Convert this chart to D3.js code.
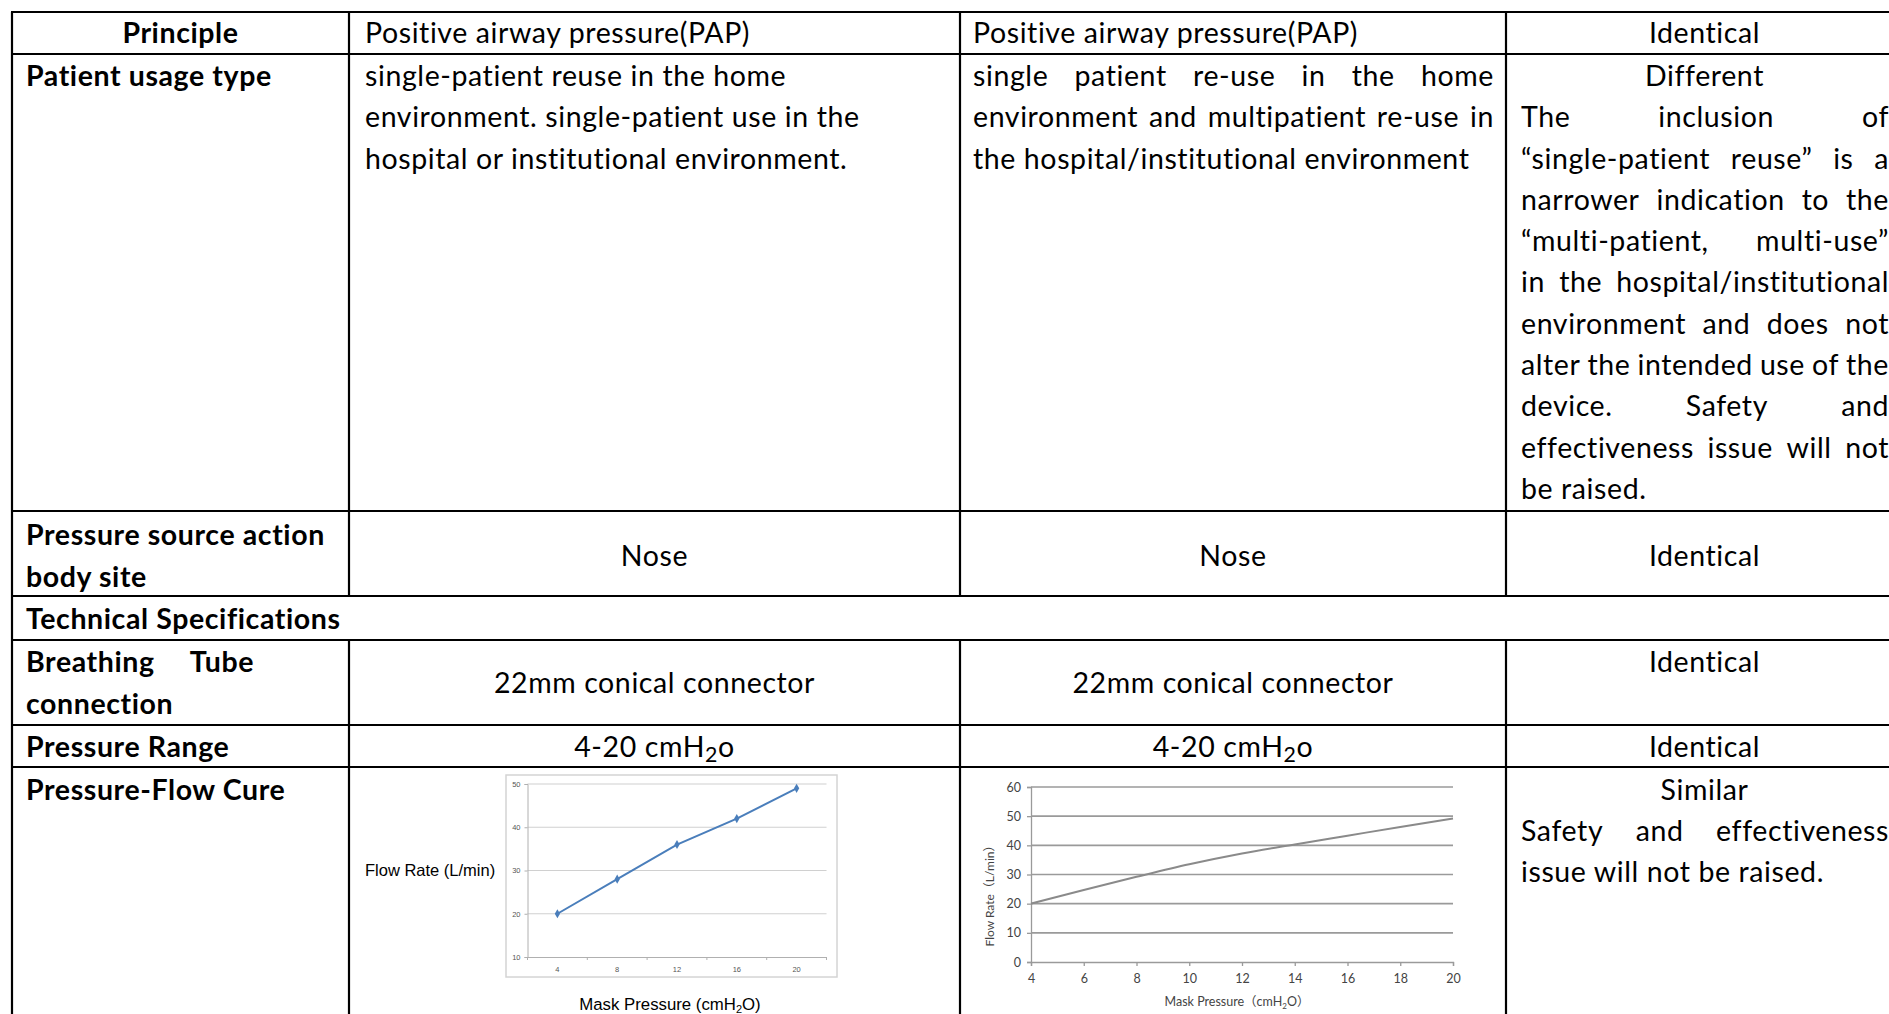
<!DOCTYPE html>
<html>
<head>
<meta charset="utf-8">
<script src="https://cdn.jsdelivr.net/npm/d3@7"></script>
<style>
  body { margin: 0; background: #fff; overflow: hidden; }
</style>
</head>
<body>
<div id="chart"></div>
<script>
// ---- table text ----
var colA = [["Principle"], ["Patient usage type"], ["Pressure source action", "body site"],
  ["Technical Specifications"], ["Breathing Tube", "connection"], ["Pressure Range"], ["Pressure-Flow Cure"]]
var colB = [["Positive airway pressure(PAP)"],
  ["single-patient reuse in the home", "environment. single-patient use in the", "hospital or institutional environment."],
  ["Nose"], [], ["22mm conical connector"], ["4-20 cmH|2|o"], []]
var colC = [["Positive airway pressure(PAP)"],
  ["single patient re-use in the home", "environment and multipatient re-use in", "the hospital/institutional environment"],
  ["Nose"], [], ["22mm conical connector"], ["4-20 cmH|2|o"], []]
var colD = [["Identical"],
  ["Different", "The inclusion of", "\u201csingle-patient reuse\u201d is a", "narrower indication to the",
   "\u201cmulti-patient, multi-use\u201d", "in the hospital/institutional", "environment and does not",
   "alter the intended use of the", "device. Safety and", "effectiveness issue will not", "be raised."],
  ["Identical"], [], ["Identical"], ["Identical"],
  ["Similar", "Safety and effectiveness", "issue will not be raised."]]

// ---- chart data ----
var leftPressure = [4, 8, 12, 16, 20]
var leftFlow = [20, 28, 36, 42, 49]
var leftYTicks = [10, 20, 30, 40, 50]

var rightPressure = [4, 6, 8, 10, 12, 14, 16, 18, 20]
var rightFlow = [20, 24.7, 29.2, 33.5, 37.2, 40.3, 43.3, 46.3, 49.2]
var rightYTicks = [0, 10, 20, 30, 40, 50, 60]
var rightXTicks = [4, 6, 8, 10, 12, 14, 16, 18, 20]

// ---- layout ----
var W = 1889, H = 1014
var colX = [12, 349, 960, 1506, 1903]
var rowY = [12, 54, 511, 596, 640, 725, 767, 1030]
var FONT = "Lato, 'Noto Sans', sans-serif"
var FS = 28.5
var LH = 41.3

var svg = d3.select("#chart").append("svg")
  .attr("width", W).attr("height", H)
svg.append("rect").attr("width", W).attr("height", H).attr("fill", "#fff")

var txt = svg.append("g").attr("font-family", FONT).attr("font-size", FS)
  .attr("fill", "#000").style("letter-spacing", "0.6px")

// baseline from a visual centre
function base(c) { return c + FS * 0.35 }

// one line of text; "a|2|b" draws a subscript 2
function line(str, x, cy, anchor, bold) {
  var t = txt.append("text").attr("x", x).attr("y", base(cy))
    .attr("text-anchor", anchor || "start")
    .attr("font-weight", bold ? "bold" : "normal")
  var parts = str.split("|")
  if (parts.length === 1) { t.text(str); return t }
  t.append("tspan").text(parts[0])
  t.append("tspan").attr("font-size", FS * 0.75).attr("dy", 5).text(parts[1])
  t.append("tspan").attr("dy", -5).text(parts[2])
  return t
}

// justified line: words spread from x0 to x1
function justify(str, x0, x1, cy, bold) {
  var words = str.split(" ")
  var nodes = words.map(function(w) {
    return txt.append("text").attr("y", base(cy))
      .attr("font-weight", bold ? "bold" : "normal").text(w)
  })
  var widths = nodes.map(function(n) { return n.node().getComputedTextLength() })
  var gap = (x1 - x0 - d3.sum(widths)) / (words.length - 1)
  var x = x0
  nodes.forEach(function(n, i) { n.attr("x", x); x += widths[i] + gap })
}

function centre(i) { return (colX[i] + colX[i + 1]) / 2 }
var padL = [26, 365, 973, 1521], padR = [335, 946, 1494, 1889]

// row 1
line(colA[0][0], centre(0), 33, "middle", true)
line(colB[0][0], padL[1], 33)
line(colC[0][0], padL[2], 33)
line(colD[0][0], centre(3), 33, "middle")

// row 2
var r2 = function(k) { return 76 + k * LH }
line(colA[1][0], padL[0], r2(0), "start", true)
colB[1].forEach(function(s, k) { line(s, padL[1], r2(k)) })
colC[1].forEach(function(s, k) {
  if (k < colC[1].length - 1) justify(s, padL[2], padR[2], r2(k))
  else line(s, padL[2], r2(k))
})
colD[1].forEach(function(s, k) {
  if (k === 0) line(s, centre(3), r2(k), "middle")
  else if (k < colD[1].length - 1) justify(s, padL[3], padR[3], r2(k))
  else line(s, padL[3], r2(k))
})

// row 3
line(colA[2][0], padL[0], 535, "start", true)
line(colA[2][1], padL[0], 577, "start", true)
line(colB[2][0], centre(1), 556, "middle")
line(colC[2][0], centre(2), 556, "middle")
line(colD[2][0], centre(3), 556, "middle")

// row 4
line(colA[3][0], padL[0], 619, "start", true)

// row 5
justify(colA[4][0], padL[0], 254, 662, true)
line(colA[4][1], padL[0], 704, "start", true)
line(colB[4][0], centre(1), 683, "middle")
line(colC[4][0], centre(2), 683, "middle")
line(colD[4][0], centre(3), 662, "middle")

// row 6
line(colA[5][0], padL[0], 747, "start", true)
line(colB[5][0], centre(1), 747, "middle")
line(colC[5][0], centre(2), 747, "middle")
line(colD[5][0], centre(3), 747, "middle")

// row 7
line(colA[6][0], padL[0], 790, "start", true)
line(colD[6][0], centre(3), 790, "middle")
justify(colD[6][1], padL[3], padR[3], 831)
line(colD[6][2], padL[3], 872)

// grid lines
var grid = svg.append("g").attr("stroke", "#000").attr("stroke-width", 2.2)
rowY.slice(0, 7).forEach(function(y) {
  grid.append("line").attr("x1", colX[0] - 1).attr("x2", colX[4]).attr("y1", y).attr("y2", y)
})
for (var r = 0; r < 7; r++) {
  colX.forEach(function(x, i) {
    if (r === 3 && i > 0 && i < 4) return
    grid.append("line").attr("x1", x).attr("x2", x).attr("y1", rowY[r]).attr("y2", rowY[r + 1])
  })
}

// ---- left chart (excel style) ----
var lc = svg.append("g").attr("font-family", "'Liberation Sans', Arial, sans-serif")
lc.append("rect").attr("x", 506).attr("y", 775).attr("width", 331).attr("height", 202)
  .attr("fill", "#fff").attr("stroke", "#d4d4d4").attr("stroke-width", 1.5)

var xL = d3.scaleBand().domain(leftPressure).range([527.5, 826.5])
var yL = d3.scaleLinear().domain([10, 50]).range([957, 784])

lc.selectAll(".gl").data(leftYTicks.slice(1)).enter().append("line")
  .attr("x1", 527.5).attr("x2", 826.5)
  .attr("y1", function(d) { return yL(d) }).attr("y2", function(d) { return yL(d) })
  .attr("stroke", "#d0d0d0").attr("stroke-width", 1.2)

lc.append("g").attr("transform", "translate(527.5,0)")
  .call(d3.axisLeft(yL).tickValues(leftYTicks).tickSize(3).tickPadding(4))
  .call(function(g) {
    g.selectAll("path,line").attr("stroke", "#b0b0b0")
    g.selectAll("text").attr("font-size", 7.5).attr("fill", "#555")
  })
lc.append("g").attr("transform", "translate(0,957)")
  .call(d3.axisBottom(xL).tickSize(0).tickPadding(10))
  .call(function(g) {
    g.select("path").attr("stroke", "#b0b0b0")
    g.selectAll("text").attr("font-size", 7.5).attr("fill", "#555")
  })
// category boundary ticks
lc.selectAll(".bt").data(d3.range(6)).enter().append("line")
  .attr("x1", function(i) { return 527.5 + i * xL.bandwidth() })
  .attr("x2", function(i) { return 527.5 + i * xL.bandwidth() })
  .attr("y1", 957).attr("y2", 960).attr("stroke", "#b0b0b0")

var ptsL = leftPressure.map(function(p, i) { return [xL(p) + xL.bandwidth() / 2, yL(leftFlow[i])] })
lc.append("path").attr("d", d3.line()(ptsL)).attr("fill", "none")
  .attr("stroke", "#4a7ebb").attr("stroke-width", 2)
lc.selectAll(".mk").data(ptsL).enter().append("path")
  .attr("d", d3.symbol(d3.symbolDiamond, 24))
  .attr("transform", function(d) { return "translate(" + d + ")" })
  .attr("fill", "#4a7ebb")

lc.append("text").attr("x", 365).attr("y", 876).attr("font-size", 16.5).text("Flow Rate (L/min)")
var mt = lc.append("text").attr("x", 670).attr("y", 1010).attr("font-size", 16.8).attr("text-anchor", "middle")
mt.append("tspan").text("Mask Pressure (cmH")
mt.append("tspan").attr("font-size", 11).attr("dy", 3).text("2")
mt.append("tspan").attr("dy", -3).text("O)")

// ---- right chart ----
var rc = svg.append("g").attr("font-family", "Lato, 'Noto Sans CJK SC', sans-serif")
var xR = d3.scaleLinear().domain([4, 20]).range([1031, 1453])
var yR = d3.scaleLinear().domain([0, 60]).range([962, 787])

rc.selectAll(".gr").data(rightYTicks.slice(1)).enter().append("line")
  .attr("x1", xR(4)).attr("x2", xR(20))
  .attr("y1", function(d) { return yR(d) }).attr("y2", function(d) { return yR(d) })
  .attr("stroke", "#9a9a9a").attr("stroke-width", 1.6)

rc.append("g").attr("transform", "translate(" + xR(4) + ",0)")
  .call(d3.axisLeft(yR).tickValues(rightYTicks).tickSize(4).tickPadding(6))
  .call(function(g) {
    g.selectAll("path,line").attr("stroke", "#9a9a9a").attr("stroke-width", 1.3)
    g.selectAll("text").attr("font-size", 12.5).attr("fill", "#444").attr("font-family", "Lato")
  })
rc.append("g").attr("transform", "translate(0," + yR(0) + ")")
  .call(d3.axisBottom(xR).tickValues(rightXTicks).tickSize(4).tickPadding(8))
  .call(function(g) {
    g.selectAll("path,line").attr("stroke", "#9a9a9a").attr("stroke-width", 1.3)
    g.selectAll("text").attr("font-size", 12.5).attr("fill", "#444").attr("font-family", "Lato")
  })

rc.append("path")
  .datum(rightPressure.map(function(p, i) { return [xR(p), yR(rightFlow[i])] }))
  .attr("d", d3.line().curve(d3.curveMonotoneX))
  .attr("fill", "none").attr("stroke", "#8a8a8a").attr("stroke-width", 2)

rc.append("text").attr("transform", "translate(994,893) rotate(-90)")
  .attr("text-anchor", "middle").attr("font-size", 12).attr("fill", "#444")
  .text("Flow Rate\uff08L/min\uff09")
var rt = rc.append("text").attr("x", 1237).attr("y", 1006).attr("text-anchor", "middle")
  .attr("font-size", 12.5).attr("fill", "#444")
rt.append("tspan").text("Mask Pressure\uff08cmH")
rt.append("tspan").attr("font-size", 8).attr("dy", 3).text("2")
rt.append("tspan").attr("dy", -3).text("O\uff09")
</script>
</body>
</html>
